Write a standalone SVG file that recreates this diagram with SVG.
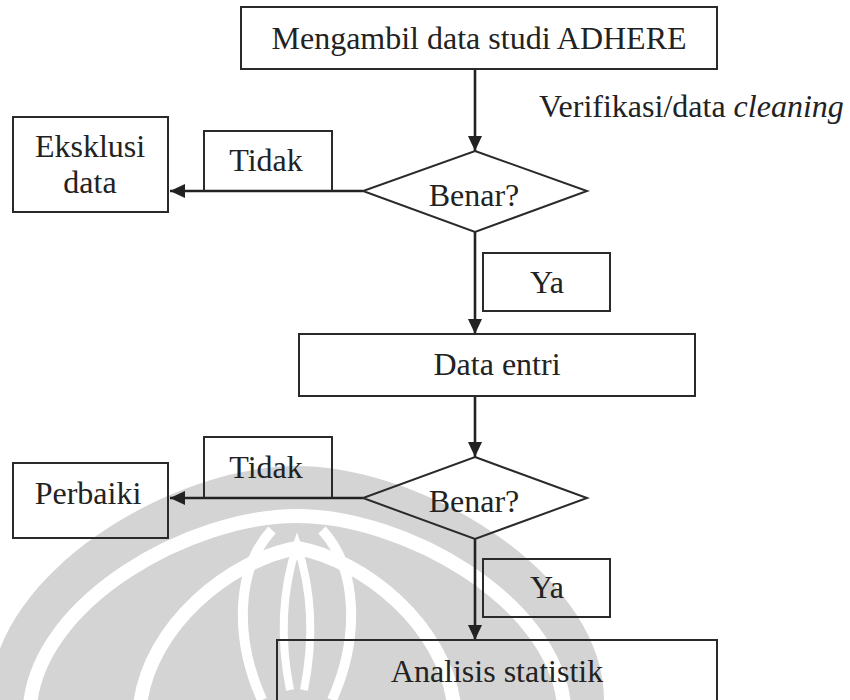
<svg xmlns="http://www.w3.org/2000/svg" width="850" height="700" viewBox="0 0 850 700">
<style>
.box{fill:none;stroke:#2a2a2a;stroke-width:2}
.lbl{fill:none;stroke:#2a2a2a;stroke-width:2}
.dia{fill:none;stroke:#2a2a2a;stroke-width:2}
.t{font-family:"Liberation Serif","Times New Roman",serif;font-size:32px;fill:#222;text-anchor:middle}
.con{fill:none;stroke:#222;stroke-width:2.6}
.wm{fill:#d4d4d4}
.wb{fill:none;stroke:#fff}
</style>
<defs>
<marker id="ah" markerUnits="userSpaceOnUse" markerWidth="16" markerHeight="14" refX="15" refY="7" orient="auto">
<path d="M0,0 L15,7 L0,14 Z" fill="#222"/>
</marker>
</defs>
<rect width="850" height="700" fill="#fff"/>
<g id="watermark">
<path class="wm" d="M-10,700 C-10,575 170,466 297,466 C424,466 604,575 604,700 Z"/>
<path class="wb" stroke-width="14" d="M30,705 C40,600 190,516 297,516 C404,516 554,600 564,705"/>
<path class="wb" stroke-width="14" d="M140,705 C150,625 230,560 297,548 C364,560 444,625 454,705"/>
<path class="wb" stroke-width="10" d="M262,700 C235,640 235,570 272,530"/>
<path class="wb" stroke-width="10" d="M332,700 C359,640 359,570 322,530"/>
<path class="wb" stroke-width="8" d="M290,690 C280,640 282,590 297,545 C312,590 314,640 304,690"/>
</g>
<g id="connectors">
<line class="con" x1="475" y1="69" x2="475" y2="151" marker-end="url(#ah)"/>
<line class="con" x1="363" y1="191" x2="170" y2="191" marker-end="url(#ah)"/>
<line class="con" x1="475" y1="232" x2="475" y2="334" marker-end="url(#ah)"/>
<line class="con" x1="475" y1="396" x2="475" y2="457" marker-end="url(#ah)"/>
<line class="con" x1="363" y1="498" x2="170" y2="498" marker-end="url(#ah)"/>
<line class="con" x1="475" y1="539" x2="475" y2="640" marker-end="url(#ah)"/>
</g>
<g id="n-start">
<rect class="box" x="241" y="7" width="476" height="62"/>
<text class="t" x="479" y="49">Mengambil data studi ADHERE</text>
</g>
<g id="n-verif">
<text class="t" x="539" y="117" style="text-anchor:start">Verifikasi/data <tspan font-style="italic">cleaning</tspan></text>
</g>
<g id="n-check1">
<polygon class="dia" points="475,151 587,191 475,232 363,191"/>
<text class="t" x="474" y="206">Benar?</text>
</g>
<g id="n-tidak1">
<polyline class="lbl" points="204,191 204,131 332,131 332,191"/>
<text class="t" x="266" y="171">Tidak</text>
</g>
<g id="n-exclude">
<rect class="box" x="13" y="117" width="155" height="95"/>
<text class="t" x="90" y="157">Eksklusi</text>
<text class="t" x="90" y="193">data</text>
</g>
<g id="n-ya1">
<rect class="lbl" x="483" y="253" width="127" height="58"/>
<text class="t" x="547" y="293">Ya</text>
</g>
<g id="n-entry">
<rect class="box" x="299" y="334" width="396" height="62"/>
<text class="t" x="497" y="375">Data entri</text>
</g>
<g id="n-check2">
<polygon class="dia" points="475,457 587,498 475,539 363,498"/>
<text class="t" x="474" y="512">Benar?</text>
</g>
<g id="n-tidak2">
<polyline class="lbl" points="204,498 204,437 332,437 332,498"/>
<text class="t" x="266" y="478">Tidak</text>
</g>
<g id="n-fix">
<rect class="box" x="13" y="463" width="155" height="75"/>
<text class="t" x="88" y="504">Perbaiki</text>
</g>
<g id="n-ya2">
<rect class="lbl" x="483" y="559" width="127" height="58"/>
<text class="t" x="547" y="598">Ya</text>
</g>
<g id="n-analysis">
<rect class="box" x="277" y="640" width="440" height="80"/>
<text class="t" x="497" y="682">Analisis statistik</text>
</g>
</svg>
